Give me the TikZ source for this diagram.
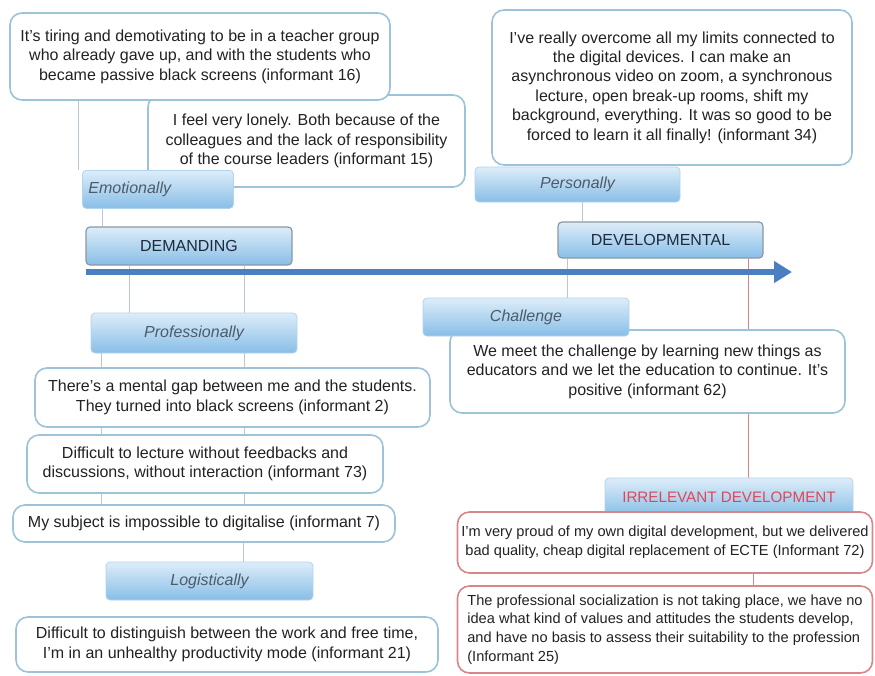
\documentclass[tikz,border=0pt]{standalone}
\usepackage{fontspec}
\setmainfont{Liberation Sans}
\usepackage{tikz,xcolor}
\usetikzlibrary{arrows.meta}
\usetikzlibrary{backgrounds}

\definecolor{quoteblue}{HTML}{9DC3DA}
\definecolor{redline}{HTML}{D9868B}
\definecolor{linkblue}{HTML}{B5CAD6}
\definecolor{tagtop}{HTML}{DDEDF9}
\definecolor{tagbottom}{HTML}{88BEE7}
\definecolor{tagedge}{HTML}{B3D3EA}
\definecolor{poleedge}{HTML}{8A98A6}
\definecolor{arrowblue}{HTML}{4B7FC2}
\definecolor{textgray}{HTML}{222222}
\definecolor{taggray}{HTML}{4D5B6A}
\definecolor{polenavy}{HTML}{1F2B3D}
\definecolor{irrred}{HTML}{E0465A}

\begin{document}
\begin{tikzpicture}[x=0.5pt,y=-0.5pt]

    \tikzstyle{every node}=[font=\fontsize{8}{9.7}\selectfont,text=textgray]
    \tikzstyle{quotebox}=[draw=quoteblue,line width=0.8pt,fill=white,rounded corners=6pt,inner sep=0pt,align=center]
    \tikzstyle{redquote}=[quotebox,draw=redline,font=\fontsize{7.3}{9.4}\selectfont]
    \tikzstyle{tagbox}=[draw=tagedge,line width=0.4pt,rounded corners=2pt,top color=tagtop,bottom color=tagbottom,inner sep=0pt,font=\fontsize{8}{9.7}\selectfont\itshape,text=taggray]
    \tikzstyle{polebox}=[tagbox,draw=poleedge,line width=0.6pt,font=\fontsize{8}{9.7}\selectfont,text=polenavy]
    \tikzstyle{linkline}=[draw=linkblue,line width=0.5pt]
    \tikzstyle{redlink}=[draw=redline,line width=0.5pt]
    \tikzstyle{axis}=[draw=arrowblue,line width=2.6pt,-{Triangle[length=9pt,width=10.5pt]}]

    \useasboundingbox (0,0) rectangle (875,676);

    % demanding side
    \node[quotebox,minimum width=158.5pt,minimum height=46pt](q15) at (306.5,141){I feel very lonely. Both because of the\\colleagues and the lack of responsibility\\of the course leaders (informant 15)};
    \node[quotebox,minimum width=190pt,minimum height=43.5pt](q16) at (200,56.5){It's tiring and demotivating to be in a teacher group\\who already gave up, and with the students who\\became passive black screens (informant 16)};
    \node[tagbox,anchor=north west,minimum height=19pt,text width=69.5pt,inner xsep=3pt,align=left](emo) at (82,170){Emotionally};
    \node[polebox,minimum width=103pt,minimum height=19pt](dem) at (189,246){DEMANDING};
    \node[tagbox,minimum width=103pt,minimum height=20pt](prof) at (194,333){Professionally};
    \node[quotebox,minimum width=197.5pt,minimum height=29.5pt](q2) at (232.5,397.5){There's a mental gap between me and the students.\\They turned into black screens (informant 2)};
    \node[quotebox,minimum width=178pt,minimum height=29pt](q73) at (205,464){Difficult to lecture without feedbacks and\\discussions, without interaction (informant 73)};
    \node[quotebox,minimum width=191pt,minimum height=18.5pt](q7) at (204,523.5){My subject is impossible to digitalise (informant 7)};
    \node[tagbox,minimum width=103.5pt,minimum height=19pt](logi) at (209.5,581){Logistically};
    \node[quotebox,minimum width=211pt,minimum height=27.5pt](q21) at (227,644.5){Difficult to distinguish between the work and free time,\\I'm in an unhealthy productivity mode (informant 21)};

    % developmental side
    \node[quotebox,minimum width=180pt,minimum height=77.5pt](q34) at (672,87.5){I've really overcome all my limits connected to\\the digital devices. I can make an\\asynchronous video on zoom, a synchronous\\lecture, open break-up rooms, shift my\\background, everything. It was so good to be\\forced to learn it all finally! (informant 34)};
    \node[tagbox,minimum width=102.5pt,minimum height=17.5pt](pers) at (577.5,184.5){Personally};
    \node[polebox,minimum width=102.5pt,minimum height=18pt](dev) at (660.5,240){DEVELOPMENTAL};
    \node[quotebox,minimum width=197.5pt,minimum height=41.5pt](q62) at (647.5,371.5){We meet the challenge by learning new things as\\educators and we let the education to continue. It's\\positive (informant 62)};
    \node[tagbox,minimum width=103pt,minimum height=19pt](chal) at (526,317){Challenge};
    \node[tagbox,minimum width=124pt,minimum height=19pt,font=\fontsize{7.6}{9.4}\selectfont,text=irrred](irr) at (729,497){IRRELEVANT DEVELOPMENT};
    \node[redquote,minimum width=207.5pt,minimum height=30.5pt](q72) at (665,542.5){I'm very proud of my own digital development, but we delivered\\bad quality, cheap digital replacement of ECTE (Informant 72)};
    \node[redquote,minimum width=207.5pt,minimum height=43.5pt,align=left](q25) at (665,629.5){The professional socialization is not taking place, we have no\\idea what kind of values and attitudes the students develop,\\and have no basis to assess their suitability to the profession\\(Informant 25)};

    % links
    \begin{scope}[on background layer]
      \draw[linkline](q16.south -| 78,0)--(emo.north -| 78,0);
      \draw[linkline](emo.south -| 102,0)--(dem.north -| 102,0);
      \draw[linkline](dem.south -| 129,0)--(prof.north -| 129,0);
      \draw[linkline](dem.south -| 244,0)--(prof.north -| 244,0);
      \foreach \x in {101,244}{
        \draw[linkline](prof.south -| \x,0)--(q2.north -| \x,0);
        \draw[linkline](q2.south -| \x,0)--(q73.north -| \x,0);
        \draw[linkline](q73.south -| \x,0)--(q7.north -| \x,0);
      }
      \draw[linkline](q7.south -| 243,0)--(logi.north -| 243,0);

      \draw[linkline](pers.south -| 582,0)--(dev.north -| 582,0);
      \draw[linkline](dev.south -| 567,0)--(chal.north -| 567,0);
      \draw[redlink](dev.south -| 748,0)--(irr.north -| 748,0);
      \draw[redlink](q72.south -| 753,0)--(q25.north -| 753,0);
    \end{scope}

    % time axis
    \coordinate(axisstart) at (86,272);
    \coordinate(axisend) at (792,272);
    \draw[axis](axisstart)--(axisend);

\end{tikzpicture}
\end{document}
